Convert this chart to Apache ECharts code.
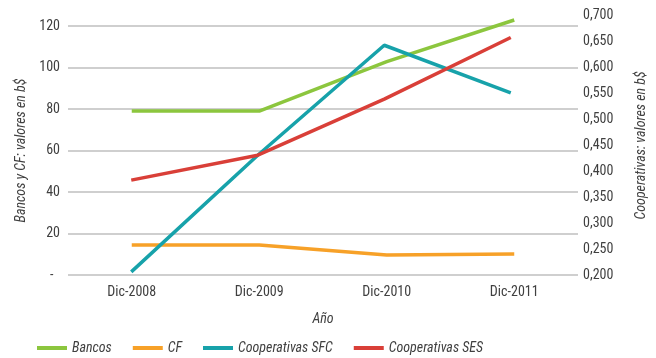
<!DOCTYPE html>
<html>
<head>
<meta charset="utf-8">
<script src="https://cdn.jsdelivr.net/npm/echarts@6/dist/echarts.min.js"></script>
<style>html,body{margin:0;padding:0;background:#fff;}#c{width:656px;height:358px;}</style>
</head>
<body>
<div id="c"></div>
<script>
var categories = ['Dic-2008', 'Dic-2009', 'Dic-2010', 'Dic-2011'];
var bancos = [79, 79, 102.8, 122.9];
var cf = [14.5, 14.5, 9.6, 10.1];
var coopSFC = [0.206, 0.431, 0.643, 0.551];
var coopSES = [0.383, 0.431, 0.539, 0.658];
var seriesNames = ['Bancos', 'CF', 'Cooperativas SFC', 'Cooperativas SES'];
var colors = ['#8cc63e', '#f7a128', '#17a2aa', '#d93f38'];

var FONT = '"Roboto Condensed", "Open Sans", sans-serif';
var TXT = '#404040';

var chart = echarts.init(document.getElementById('c'));
chart.setOption({
  animation: false,
  color: colors,
  textStyle: { fontFamily: FONT },
  grid: [
    { left: 68, right: 78, top: 26, bottom: 83, containLabel: false },
    { left: 68, right: 78, top: 15.7, bottom: 83, containLabel: false }
  ],
  legend: {
    left: 37, top: 341, padding: 0, itemWidth: 30, itemHeight: 4, itemGap: 21,
    icon: 'rect',
    textStyle: { fontFamily: FONT, fontSize: 14, fontStyle: 'italic', color: TXT },
    data: seriesNames
  },
  xAxis: [
    {
      gridIndex: 0, type: 'category', data: categories, boundaryGap: true,
      axisLine: { show: false }, axisTick: { show: false },
      axisLabel: { color: TXT, fontSize: 14, margin: 10, fontFamily: FONT },
      name: 'Año', nameLocation: 'middle', nameGap: 37,
      nameTextStyle: { color: TXT, fontSize: 14, fontStyle: 'italic', fontFamily: FONT }
    },
    {
      gridIndex: 1, type: 'category', data: categories, boundaryGap: true, show: false
    }
  ],
  yAxis: [
    {
      gridIndex: 0, type: 'value', min: 0, max: 120, interval: 20, position: 'left',
      axisLine: { show: false }, axisTick: { show: false },
      splitLine: { lineStyle: { color: '#bfbfbf', width: 1.5 } },
      axisLabel: { color: TXT, fontSize: 14, margin: 8, fontFamily: FONT,
        formatter: function (v) { return v === 0 ? '-  ' : String(v); } },
      name: 'Bancos y CF: valores en b$', nameLocation: 'middle', nameGap: 40, nameRotate: 90,
      nameTextStyle: { color: TXT, fontSize: 14, fontStyle: 'italic', fontFamily: FONT }
    },
    {
      gridIndex: 1, type: 'value', min: 0.2, max: 0.7, interval: 0.05, position: 'right',
      axisLine: { show: false }, axisTick: { show: false }, splitLine: { show: false },
      axisLabel: { color: TXT, fontSize: 14, margin: 9, fontFamily: FONT,
        formatter: function (v) { return v.toFixed(3).replace('.', ','); } },
      name: 'Cooperativas: valores en b$', nameLocation: 'middle', nameGap: 60, nameRotate: 90,
      nameTextStyle: { color: TXT, fontSize: 14, fontStyle: 'italic', fontFamily: FONT }
    }
  ],
  series: [
    { name: seriesNames[0], type: 'line', xAxisIndex: 0, yAxisIndex: 0, data: bancos, clip: false,
      showSymbol: false, symbol: 'none', lineStyle: { width: 3.5 } },
    { name: seriesNames[1], type: 'line', xAxisIndex: 0, yAxisIndex: 0, data: cf, clip: false,
      showSymbol: false, symbol: 'none', lineStyle: { width: 3.5 } },
    { name: seriesNames[2], type: 'line', xAxisIndex: 1, yAxisIndex: 1, data: coopSFC, clip: false,
      showSymbol: false, symbol: 'none', lineStyle: { width: 3.5 } },
    { name: seriesNames[3], type: 'line', xAxisIndex: 1, yAxisIndex: 1, data: coopSES, clip: false,
      showSymbol: false, symbol: 'none', lineStyle: { width: 3.5 } }
  ]
});
</script>
</body>
</html>
